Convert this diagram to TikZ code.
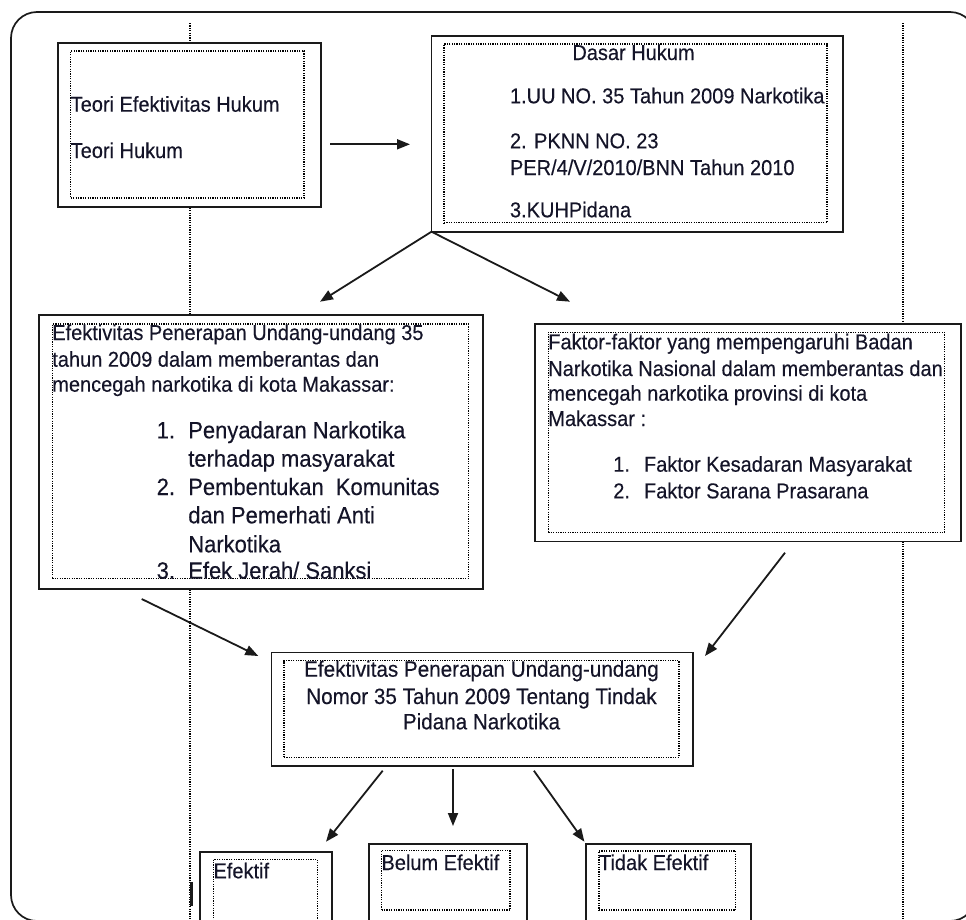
\documentclass[tikz,border=0pt]{standalone}
\usepackage{fontspec}
\setmainfont{Liberation Sans}[FakeStretch=0.93,FakeBold=0.25]
\usetikzlibrary{arrows.meta,fit}
\definecolor{ln}{HTML}{1A1A1A}
\definecolor{tx}{HTML}{141428}
\tikzset{
  obox/.style={draw=ln, line width=1.9pt, fill=white, inner sep=0pt, outer sep=0pt},
  ibox/.style={draw=black, line width=1.3pt, dash pattern=on 1.2pt off 1.2pt, inner sep=0pt, outer sep=0pt},
  txt/.style={inner sep=0pt, outer sep=0pt, anchor=base west, text=tx, font=\fontsize{21.5}{24}\selectfont},
  txtb/.style={txt, font=\fontsize{23.6}{26}\selectfont},
  txtc/.style={inner sep=0pt, outer sep=0pt, anchor=base, text=tx, font=\fontsize{22.2}{24}\selectfont},
  arr/.style={draw=ln, line width=1.8pt, -{Triangle[length=13pt,width=10pt]}},
  vdot/.style={draw=black, line width=1.3pt, dash pattern=on 1.2pt off 1.2pt},
}
\begin{document}
\begin{tikzpicture}[x=1pt,y=-1pt]
\useasboundingbox (0,0) rectangle (966,919);
\clip (0,0) rectangle (966,919);
\fill[white] (0,0) rectangle (966,919);
% outer rounded frame
\draw[ln, line width=1.7pt, rounded corners=26pt] (11,12) rectangle (976,921);
% background dotted guide lines
\coordinate (vl1) at (190,23); \coordinate (vl2) at (190,919);
\coordinate (vr1) at (903,23); \coordinate (vr2) at (903,919);
\draw[vdot] (vl1) -- (vl2);
\draw[vdot] (vr1) -- (vr2);
\draw[ln, line width=2.2pt] (191.5,882) -- (191.5,906);

% Box A
\node[obox, fit={(57.7,42.7) (320.7,206.7)}] (A) {};
\node[ibox, fit={(70.7,51) (304,198)}] (Ai) {};
\node[txt] (a1) at (70.7,111.7) {Teori Efektivitas Hukum};
\node[txt] (a2) at (70.7,158) {Teori Hukum};

% Box B
\node[obox, fit={(431.5,36) (843,231.7)}] (B) {};
\node[ibox, fit={(444,44) (827,222.7)}] (Bi) {};
\node[txt] (b0) at (572.4,60) {Dasar Hukum};
\node[txt] (b1) at (510,103.3) {1.UU NO. 35 Tahun 2009 Narkotika};
\node[txt] (b2) at (510,148.3) {2. PKNN NO. 23};
\node[txt] (b3) at (510,175) {PER/4/V/2010/BNN Tahun 2010};
\node[txt] (b4) at (510,217.3) {3.KUHPidana};

% Box C
\node[obox, fit={(39,315) (483.3,588.7)}] (C) {};
\node[ibox, fit={(52.3,324) (468.3,578.7)}] (Ci) {};
\node[txt] (c1) at (52.3,340) {Efektivitas Penerapan Undang-undang 35};
\node[txt] (c2) at (52.3,366.7) {tahun 2009 dalam memberantas dan};
\node[txt] (c3) at (52.3,391.7) {mencegah narkotika di kota Makassar:};
\node[txtb] (cn1) at (156.7,438.3) {1.};
\node[txtb] (c4) at (188.3,438.3) {Penyadaran Narkotika};
\node[txtb] (c5) at (188.3,466.7) {terhadap masyarakat};
\node[txtb] (cn2) at (156.7,495) {2.};
\node[txtb] (c6) at (188.3,495) {Pembentukan\ \ Komunitas};
\node[txtb] (c7) at (188.3,523.3) {dan Pemerhati Anti};
\node[txtb] (c8) at (188.3,552.3) {Narkotika};
\node[txtb] (cn3) at (156.7,578.7) {3.};
\node[txtb] (c9) at (188.3,578.7) {Efek Jerah/ Sanksi};

% Box D
\node[obox, fit={(535,324) (961,541.5)}] (D) {};
\node[ibox, fit={(548.3,332.3) (944.3,532.3)}] (Di) {};
\node[txt] (d1) at (548.3,349.3) {Faktor-faktor yang mempengaruhi Badan};
\node[txt] (d2) at (548.3,376) {Narkotika Nasional dalam memberantas dan};
\node[txt] (d3) at (548.3,400.7) {mencegah narkotika provinsi di kota};
\node[txt] (d4) at (548.3,426) {Makassar :};
\node[txt] (dn1) at (613.3,471.7) {1.};
\node[txt] (d5) at (644,471.7) {Faktor Kesadaran Masyarakat};
\node[txt] (dn2) at (613.3,498.3) {2.};
\node[txt] (d6) at (644,498.3) {Faktor Sarana Prasarana};

% Box E
\node[obox, fit={(271.5,652.5) (693.4,765.7)}] (E) {};
\node[ibox, fit={(284,660.7) (678.9,757.3)}] (Ei) {};
\node[txtc] (e1) at (481.5,676.7) {Efektivitas Penerapan Undang-undang};
\node[txtc] (e2) at (481.5,704) {Nomor 35 Tahun 2009 Tentang Tindak};
\node[txtc] (e3) at (481.5,729.3) {Pidana Narkotika};

% Bottom boxes
\node[obox, fit={(200.1,852.3) (331.8,935)}] (F) {};
\node[ibox, fit={(213.5,859.3) (317.2,930)}] (Fi) {};
\node[txt] (f1) at (213.5,878.3) {Efektif};
\node[obox, fit={(368.9,844.3) (527,935)}] (G) {};
\node[ibox, fit={(381.5,850.7) (510,910)}] (Gi) {};
\node[txt] (g1) at (381.5,870) {Belum Efektif};
\node[obox, fit={(585.9,844.3) (750.7,935)}] (H) {};
\node[ibox, fit={(599,851) (735.7,910)}] (Hi) {};
\node[txt] (h1) at (599,870) {Tidak Efektif};

% connectors
\coordinate (ab1) at (330,144.3); \coordinate (ab2) at (410,144.3);
\draw[arr] (ab1) -- (ab2);
\coordinate (bc) at (320,301.7); \coordinate (bd) at (570,301.7);
\draw[arr] (B.south west) -- (bc);
\draw[arr] (B.south west) -- (bd);
\coordinate (ce1) at (141.7,599); \coordinate (ce2) at (258.3,656);
\draw[arr] (ce1) -- (ce2);
\coordinate (de1) at (785,552.7); \coordinate (de2) at (705,656);
\draw[arr] (de1) -- (de2);
\coordinate (ef1) at (382.7,770.7); \coordinate (ef2) at (326,841.7);
\draw[arr] (ef1) -- (ef2);
\coordinate (eg1) at (453,769.3); \coordinate (eg2) at (453,826);
\draw[arr] (eg1) -- (eg2);
\coordinate (eh1) at (533.9,770.7); \coordinate (eh2) at (584.4,841.7);
\draw[arr] (eh1) -- (eh2);
\end{tikzpicture}
\end{document}
